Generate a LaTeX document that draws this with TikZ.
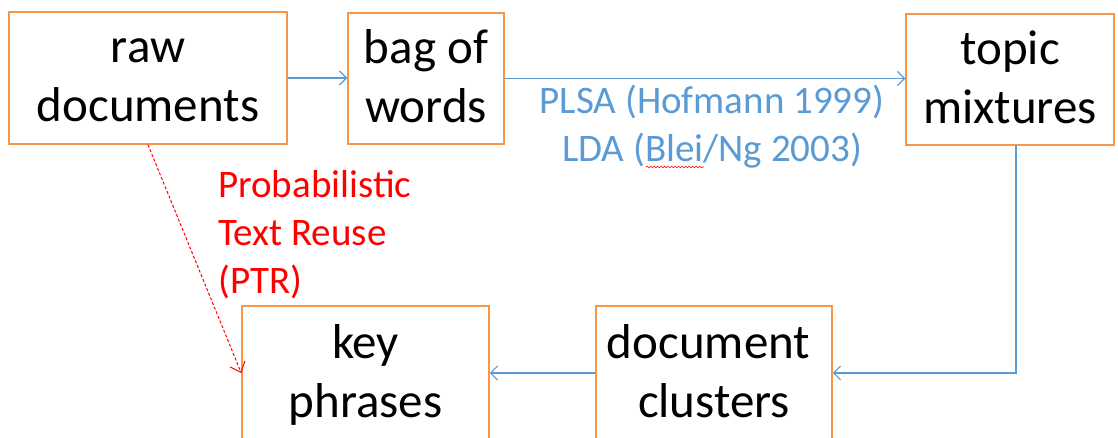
\documentclass[tikz,border=0pt]{standalone}
\usepackage{fontspec}
\setmainfont{Carlito}
\usetikzlibrary{arrows.meta,calc,decorations.pathmorphing}

\definecolor{boxorange}{HTML}{F79646}
\definecolor{flowblue}{HTML}{5B9BD5}
\definecolor{ptrred}{HTML}{FF0000}

% fixed-height strut so every stage box sets its two lines at the same baselines
\newcommand\stagestrut{\rule[-11pt]{0pt}{51pt}}
\newcommand\twolines[2]{\stagestrut#1\\\stagestrut#2}

\begin{document}
\begin{tikzpicture}[x=1pt,y=-1pt,
  stage/.style={draw=boxorange, line width=1.5pt, rectangle, inner sep=0pt,
    font=\fontsize{49}{59}\selectfont, align=center, text=black},
  note/.style={inner sep=0pt, font=\fontsize{39}{48}\selectfont},
  flow/.style={draw=flowblue, line width=1.2pt,
    -{Straight Barb[length=7pt,width=14pt,line width=1.2pt]}},
  reuse/.style={draw=ptrred, line width=1pt, dash pattern=on 3pt off 2pt,
    -{Straight Barb[length=9pt,width=16pt,line width=1pt]}},
  spell/.style={draw=ptrred, line width=0.6pt, decorate,
    decoration={snake, amplitude=0.9pt, segment length=3.5pt}}
]
\useasboundingbox (0,0) rectangle (1118,438);
\fill[white] (0,0) rectangle (1118,438);
\clip (0,0) rectangle (1118,438);

% pipeline stages
\node[stage, minimum width=278pt, minimum height=132pt] (raw)   at (148,78)    {\twolines{raw}{documents}};
\node[stage, minimum width=156pt, minimum height=131pt] (bag)   at (426,78.5)  {\twolines{bag of}{words}};
\node[stage, minimum width=208pt, minimum height=131pt] (topic) at (1010,79.5) {\twolines{topic}{mixtures}};
\node[stage, minimum width=247pt, minimum height=134pt] (key)   at (365.5,373) {\twolines{key}{phrases}};
\node[stage, minimum width=236pt, minimum height=134pt] (doc)   at (714,373)   {\twolines{document\kern10.8pt}{clusters}};

% method labels
\node[note, text=flowblue, align=center] (models) at (712,128.4)
  {\strut PLSA (Hofmann 1999)\\\strut LDA (Blei/Ng 2003)};
\node[note, text=ptrred, align=left, anchor=north west] (ptr) at (218,163.4)
  {\strut Probabilistic\\\strut Text Reuse\\\strut (PTR)};

% spell-check underline beneath "Blei"
\coordinate (bleiA) at (646,167);
\coordinate (bleiB) at (704,167);
\draw[spell] (bleiA) -- (bleiB);

% connectors
\draw[flow] (raw.east) -- (raw.east -| bag.west);
\draw[flow] (bag.east) -- (bag.east -| topic.west);
\draw[flow] ([xshift=6pt]topic.south) |- (doc.east);
\draw[flow] (doc.west) -- (key.east);
\draw[reuse] (raw.south) -- (key.west);
\end{tikzpicture}
\end{document}
